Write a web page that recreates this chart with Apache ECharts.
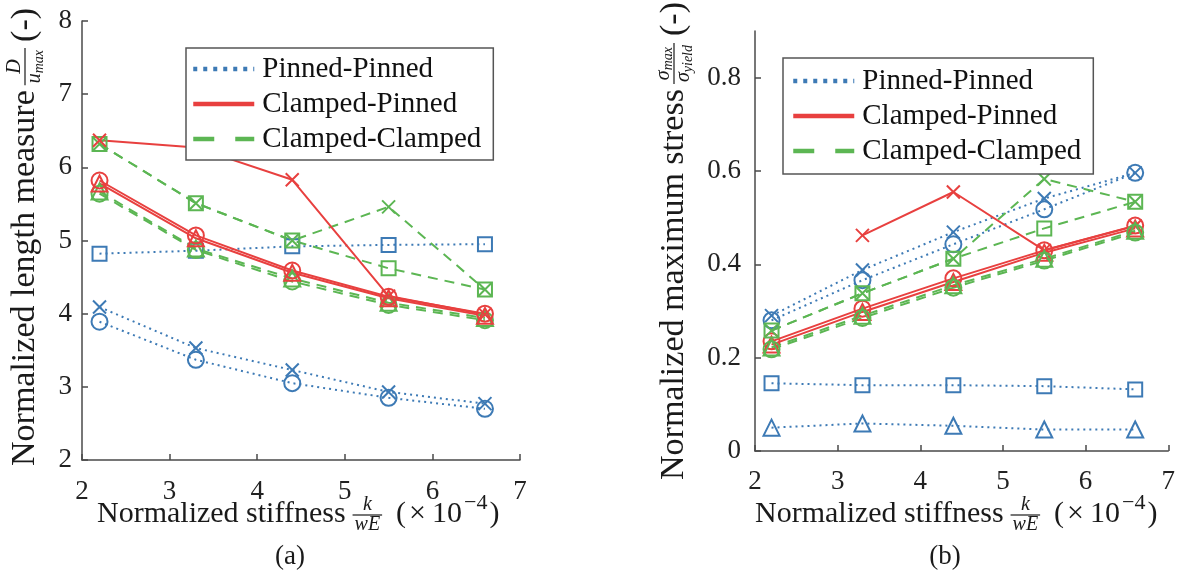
<!DOCTYPE html>
<html><head><meta charset="utf-8">
<script src="https://cdn.jsdelivr.net/npm/echarts@6/dist/echarts.min.js"></script>
<style>html,body{margin:0;padding:0;background:#fff}#c{width:1178px;height:575px}</style>
</head><body><div id="c"></div>
<script>
// ---------- data ----------
const xValues = [2.2, 3.3, 4.4, 5.5, 6.6];
const xTicks = [2, 3, 4, 5, 6, 7];
const aYTicks = [2, 3, 4, 5, 6, 7, 8];
const bYTicks = [0, 0.2, 0.4, 0.6, 0.8];
const legendNames = ['Pinned-Pinned', 'Clamped-Pinned', 'Clamped-Clamped'];

// (a) Normalized length measure
const a_PP_square   = [4.82, 4.86, 4.92, 4.94, 4.95];
const a_PP_cross    = [4.09, 3.53, 3.23, 2.93, 2.77];
const a_PP_circle   = [3.89, 3.37, 3.05, 2.85, 2.70];
const a_CP_cross    = [6.37, 6.27, 5.83, 4.24, 3.99];
const a_CP_circle   = [5.82, 5.07, 4.59, 4.23, 4.00];
const a_CP_triangle = [5.78, 5.03, 4.56, 4.21, 3.97];
const a_CC_cross    = [6.32, 5.51, 5.00, 5.46, 4.33];
const a_CC_square   = [6.32, 5.51, 5.00, 4.62, 4.33];
const a_CC_circle   = [5.64, 4.87, 4.44, 4.12, 3.91];
const a_CC_triangle = [5.67, 4.89, 4.48, 4.15, 3.94];

// (b) Normalized maximum stress
const b_PP_cross    = [0.290, 0.388, 0.469, 0.541, 0.596];
const b_PP_circle   = [0.280, 0.366, 0.443, 0.518, 0.596];
const b_PP_square   = [0.145, 0.141, 0.141, 0.139, 0.132];
const b_PP_triangle = [0.050, 0.059, 0.054, 0.046, 0.046];
const b_CP_cross    = [null, 0.462, 0.555, 0.430, 0.482];
const b_CP_circle   = [0.235, 0.305, 0.370, 0.430, 0.483];
const b_CP_triangle = [0.228, 0.298, 0.362, 0.425, 0.477];
const b_CC_cross    = [0.258, 0.338, 0.412, 0.583, 0.534];
const b_CC_square   = [0.258, 0.338, 0.412, 0.477, 0.534];
const b_CC_circle   = [0.218, 0.285, 0.350, 0.408, 0.468];
const b_CC_triangle = [0.222, 0.290, 0.355, 0.412, 0.472];

// ---------- styles ----------
const COL = {PP: '#3d7ab5', CP: '#e8403f', CC: '#5cb653'};
const DASH = {PP: [2, 4], CP: 'solid', CC: [10, 7]};
const LEG_DASH = {PP: [4, 6], CP: 'solid', CC: [21, 21]};
const STY_KEYS = ['PP', 'CP', 'CC'];
const SYM = {
  circle:   {symbol: 'circle', size: 16},
  cross:    {symbol: 'path://M0,0L10,10M10,0L0,10', size: 13},
  square:   {symbol: 'rect', size: 14},
  triangle: {symbol: 'triangle', size: 16}
};
const FONT = "'Liberation Serif', 'Times New Roman', serif";

function mk(grid, sty, sym, vals) {
  return {
    name: grid + sty + sym, type: 'line', xAxisIndex: grid, yAxisIndex: grid,
    data: xValues.map((x, i) => [x, vals[i] == null ? '-' : vals[i]]),
    symbol: SYM[sym].symbol, symbolSize: SYM[sym].size, symbolKeepAspect: true,
    lineStyle: {color: COL[sty], type: DASH[sty], width: 2},
    itemStyle: {color: 'rgba(255,255,255,0)', borderColor: COL[sty], borderWidth: 2},
    emphasis: {disabled: true}, silent: true, animation: false
  };
}
function legendSeries(name, sty) {
  return {name, type: 'line', xAxisIndex: 0, yAxisIndex: 0, data: [], symbol: 'none', symbolSize: 0,
    lineStyle: {color: COL[sty], type: LEG_DASH[sty], width: 4.5},
    itemStyle: {color: 'rgba(0,0,0,0)', borderColor: 'rgba(0,0,0,0)', borderWidth: 0, opacity: 0}};
}

const series = [
  mk(0,'PP','square',a_PP_square), mk(0,'PP','cross',a_PP_cross), mk(0,'PP','circle',a_PP_circle),
  mk(0,'CC','cross',a_CC_cross), mk(0,'CC','square',a_CC_square), mk(0,'CC','circle',a_CC_circle), mk(0,'CC','triangle',a_CC_triangle),
  mk(0,'CP','cross',a_CP_cross), mk(0,'CP','circle',a_CP_circle), mk(0,'CP','triangle',a_CP_triangle),
  mk(1,'PP','cross',b_PP_cross), mk(1,'PP','circle',b_PP_circle), mk(1,'PP','square',b_PP_square), mk(1,'PP','triangle',b_PP_triangle),
  mk(1,'CP','cross',b_CP_cross), mk(1,'CP','circle',b_CP_circle), mk(1,'CP','triangle',b_CP_triangle),
  mk(1,'CC','cross',b_CC_cross), mk(1,'CC','square',b_CC_square), mk(1,'CC','circle',b_CC_circle), mk(1,'CC','triangle',b_CC_triangle),
  legendSeries(legendNames[0],'PP'), legendSeries(legendNames[1],'CP'), legendSeries(legendNames[2],'CC')
];

// ---------- axes ----------
const axisColor = '#4a4a4a';
function xAx(grid, margin) {
  return {gridIndex: grid, type: 'value', min: 2, max: 7, interval: 1,
    axisLine: {show: true, onZero: false, lineStyle: {color: axisColor, width: 1.5}},
    axisTick: {show: true, inside: true, length: 6, customValues: xTicks, lineStyle: {color: axisColor, width: 1.5}},
    axisLabel: {customValues: xTicks, fontFamily: FONT, fontSize: 27, color: '#222', margin: margin, showMinLabel: true, showMaxLabel: true},
    splitLine: {show: false}};
}
function yAx(grid, min, max, interval, ticks, margin) {
  return {gridIndex: grid, type: 'value', min, max, interval,
    axisLine: {show: true, onZero: false, lineStyle: {color: axisColor, width: 1.5}},
    axisTick: {show: true, inside: true, length: 6, customValues: ticks, lineStyle: {color: axisColor, width: 1.5}},
    axisLabel: {customValues: ticks, fontFamily: FONT, fontSize: 27, color: '#222', margin: margin,
      formatter: v => (ticks.indexOf(+v) >= 0 ? String(+(+v).toFixed(2)) : '')},
    splitLine: {show: false}};
}

// ---------- math-like titles (real text, laid out with measured widths) ----------
const mctx = document.createElement('canvas').getContext('2d');
function tw(t, f) { mctx.font = f; return mctx.measureText(t).width; }
function txt(t, f, x, y) {
  return {type: 'text', x, y, silent: true,
    style: {text: t, font: f, fill: '#1a1a1a', textAlign: 'left', textVerticalAlign: 'middle', align: 'left', verticalAlign: 'middle'}};
}
function layout(parts, barY) {
  let x = 0; const els = [];
  for (const p of parts) {
    if (p.gap) { x += p.gap; continue; }
    if (p.t !== undefined) {
      els.push(txt(p.t, p.f, x, p.dy || 0));
      x += tw(p.t, p.f);
    } else if (p.num) {
      const n = layout(p.num), d = layout(p.den);
      const w = Math.max(n.width, d.width) + 4;
      n.els.forEach(e => { e.x += x + (w - n.width) / 2; e.y += barY - 10; els.push(e); });
      d.els.forEach(e => { e.x += x + (w - d.width) / 2; e.y += barY + 10; els.push(e); });
      els.push({type: 'line', silent: true, shape: {x1: x, y1: barY, x2: x + w, y2: barY}, style: {stroke: '#1a1a1a', lineWidth: 1.2}});
      x += w;
    }
  }
  return {els, width: x};
}
const F_T = "30px " + FONT;
const F_Y = "34px " + FONT;
const F_I = "italic 20px " + FONT;
const F_S = "italic 14px " + FONT;
const F_SUP = "22px " + FONT;
const xTitleParts = [
  {t: 'Normalized stiffness', f: F_T}, {gap: 7},
  {num: [{t: 'k', f: F_I}], den: [{t: 'wE', f: F_I}]}, {gap: 14},
  {t: '(', f: F_T}, {gap: 3}, {t: '\u00d7', f: F_T}, {gap: 6}, {t: '10', f: F_T},
  {gap: 2}, {t: '\u22124', f: F_SUP, dy: -11}, {gap: 2}, {t: ')', f: F_T}
];
const aYTitleParts = [
  {t: 'Normalized length measure', f: F_Y}, {gap: 5},
  {num: [{t: 'D', f: F_I}], den: [{t: 'u', f: F_I}, {t: 'max', f: F_S, dy: 4}]}, {gap: 6},
  {t: '(-)', f: F_Y}
];
const bYTitleParts = [
  {t: 'Normalized maximum stress', f: F_Y}, {gap: 5},
  {num: [{t: '\u03c3', f: F_I}, {t: 'max', f: F_S, dy: 4}], den: [{t: '\u03c3', f: F_I}, {t: 'yield', f: F_S, dy: 4}]}, {gap: 7},
  {t: '(-)', f: F_Y}
];
function titleGroup(parts, x, y, rot, barY) {
  const l = layout(parts, barY);
  return {type: 'group', x, y, rotation: rot || 0, silent: true, children: l.els};
}

const graphic = [
  titleGroup(xTitleParts, 97, 514, 0, 1),
  titleGroup(xTitleParts, 755, 514, 0, 1),
  titleGroup(aYTitleParts, 25, 466, Math.PI / 2, 0),
  titleGroup(bYTitleParts, 674, 480, Math.PI / 2, 0),
  {type: 'text', x: 290, y: 557, silent: true, style: {text: '(a)', font: "27px " + FONT, fill: '#1a1a1a', textAlign: 'center', textVerticalAlign: 'middle', align: 'center', verticalAlign: 'middle'}},
  {type: 'text', x: 945, y: 557, silent: true, style: {text: '(b)', font: "27px " + FONT, fill: '#1a1a1a', textAlign: 'center', textVerticalAlign: 'middle', align: 'center', verticalAlign: 'middle'}}
];

function legendCfg(left, top, pad) {
  return {orient: 'vertical', left, top, selectedMode: false,
    data: legendNames.map((n, i) => ({name: n,
      lineStyle: {color: COL[STY_KEYS[i]], type: LEG_DASH[STY_KEYS[i]], width: 4.5},
      itemStyle: {opacity: 0}})),
    itemWidth: 61, itemHeight: 12, itemGap: 5, padding: pad,
    backgroundColor: '#fff', borderColor: '#555', borderWidth: 1.5, borderRadius: 0,
    textStyle: {fontFamily: FONT, fontSize: 29, lineHeight: 30, color: '#111', padding: [0, 0, 0, 3]}};
}

const option = {
  animation: false,
  grid: [
    {left: 82, top: 21, width: 438, height: 439, containLabel: false},
    {left: 755, top: 31, width: 419, height: 420, containLabel: false}
  ],
  xAxis: [xAx(0, 18), xAx(1, 17)],
  yAxis: [yAx(0, 2, 8, 1, aYTicks, 10), yAx(1, 0, 0.9, 0.1, bYTicks, 14)],
  legend: [legendCfg(186, 48, [6, 12, 6, 5]), legendCfg(783, 58, [8, 12, 8, 8])],
  graphic,
  series
};
const chart = echarts.init(document.getElementById('c'), null, {renderer: 'canvas'});
chart.setOption(option);
</script>
</body></html>
